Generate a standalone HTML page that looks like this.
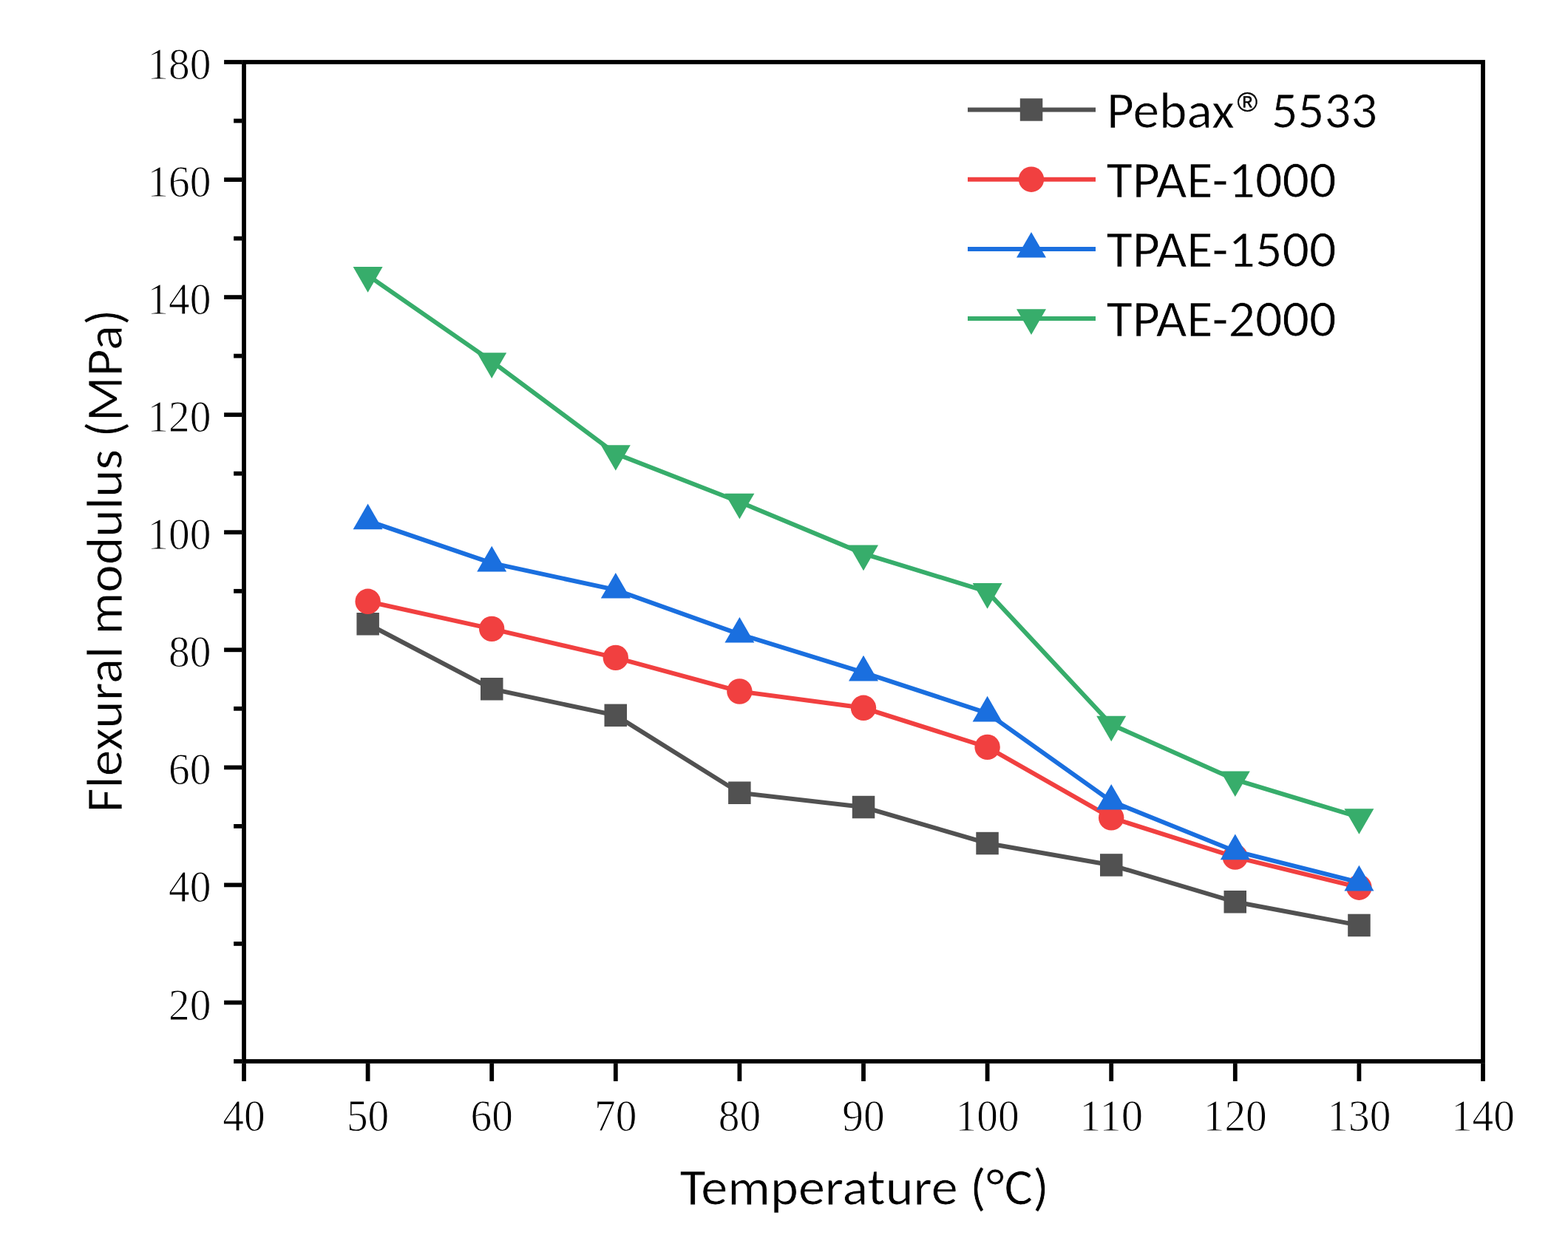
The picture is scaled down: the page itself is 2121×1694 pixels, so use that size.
<!DOCTYPE html>
<html><head><meta charset="utf-8"><title>Flexural modulus vs Temperature</title>
<style>
html,body{margin:0;padding:0;background:#fff;}
body{width:2121px;height:1694px;overflow:hidden;}
svg{display:block;}
.tk{font-family:"Liberation Serif","Times New Roman",serif;font-size:62px;fill:#000;stroke:#fff;stroke-width:1.0px;paint-order:fill stroke;}
.lb{font-family:"Carlito","Calibri","Liberation Sans","Noto Sans CJK SC",sans-serif;font-size:70px;font-size-adjust:cap-height 0.6416;fill:#000;stroke:#fff;stroke-width:0.7px;paint-order:fill stroke;}
</style></head><body>
<svg width="2121" height="1694" viewBox="0 0 2121 1694">
<rect width="2121" height="1694" fill="#fff"/>
<polyline points="497.6,844.3 665.2,932.2 832.8,967.9 1000.4,1072.7 1168.0,1092.0 1335.6,1141.0 1503.2,1170.5 1670.8,1220.3 1838.4,1251.9" fill="none" stroke="#515151" stroke-width="6.0" stroke-linejoin="miter"/>
<rect x="482.4" y="829.0" width="30.5" height="30.5" fill="#515151"/>
<rect x="650.0" y="917.0" width="30.5" height="30.5" fill="#515151"/>
<rect x="817.5" y="952.6" width="30.5" height="30.5" fill="#515151"/>
<rect x="985.1" y="1057.5" width="30.5" height="30.5" fill="#515151"/>
<rect x="1152.8" y="1076.8" width="30.5" height="30.5" fill="#515151"/>
<rect x="1320.3" y="1125.8" width="30.5" height="30.5" fill="#515151"/>
<rect x="1488.0" y="1155.2" width="30.5" height="30.5" fill="#515151"/>
<rect x="1655.5" y="1205.0" width="30.5" height="30.5" fill="#515151"/>
<rect x="1823.2" y="1236.7" width="30.5" height="30.5" fill="#515151"/>
<polyline points="497.6,813.8 665.2,850.9 832.8,889.9 1000.4,935.5 1168.0,957.8 1335.6,1010.9 1503.2,1106.4 1670.8,1159.6 1838.4,1200.7" fill="none" stroke="#F14040" stroke-width="6.0" stroke-linejoin="miter"/>
<circle cx="497.6" cy="813.8" r="17.2" fill="#F14040"/>
<circle cx="665.2" cy="850.9" r="17.2" fill="#F14040"/>
<circle cx="832.8" cy="889.9" r="17.2" fill="#F14040"/>
<circle cx="1000.4" cy="935.5" r="17.2" fill="#F14040"/>
<circle cx="1168.0" cy="957.8" r="17.2" fill="#F14040"/>
<circle cx="1335.6" cy="1010.9" r="17.2" fill="#F14040"/>
<circle cx="1503.2" cy="1106.4" r="17.2" fill="#F14040"/>
<circle cx="1670.8" cy="1159.6" r="17.2" fill="#F14040"/>
<circle cx="1838.4" cy="1200.7" r="17.2" fill="#F14040"/>
<polyline points="497.6,704.7 665.2,761.9 832.8,798.1 1000.4,858.1 1168.0,909.9 1335.6,964.9 1503.2,1084.1 1670.8,1151.7 1838.4,1193.9" fill="none" stroke="#1A6FDF" stroke-width="6.0" stroke-linejoin="miter"/>
<polygon points="497.6,681.6 517.6,716.2 477.6,716.2" fill="#1A6FDF"/>
<polygon points="665.2,738.8 685.2,773.4 645.2,773.4" fill="#1A6FDF"/>
<polygon points="832.8,775.0 852.8,809.6 812.8,809.6" fill="#1A6FDF"/>
<polygon points="1000.4,835.0 1020.4,869.6 980.4,869.6" fill="#1A6FDF"/>
<polygon points="1168.0,886.8 1188.0,921.4 1148.0,921.4" fill="#1A6FDF"/>
<polygon points="1335.6,941.8 1355.6,976.4 1315.6,976.4" fill="#1A6FDF"/>
<polygon points="1503.2,1061.0 1523.2,1095.6 1483.2,1095.6" fill="#1A6FDF"/>
<polygon points="1670.8,1128.6 1690.8,1163.2 1650.8,1163.2" fill="#1A6FDF"/>
<polygon points="1838.4,1170.8 1858.4,1205.4 1818.4,1205.4" fill="#1A6FDF"/>
<polyline points="497.6,372.6 665.2,488.9 832.8,613.8 1000.4,679.2 1168.0,749.1 1335.6,800.6 1503.2,980.2 1670.8,1054.9 1838.4,1105.7" fill="none" stroke="#37AD6B" stroke-width="6.0" stroke-linejoin="miter"/>
<polygon points="497.6,395.7 517.6,361.1 477.6,361.1" fill="#37AD6B"/>
<polygon points="665.2,511.9 685.2,477.3 645.2,477.3" fill="#37AD6B"/>
<polygon points="832.8,636.8 852.8,602.2 812.8,602.2" fill="#37AD6B"/>
<polygon points="1000.4,702.3 1020.4,667.7 980.4,667.7" fill="#37AD6B"/>
<polygon points="1168.0,772.2 1188.0,737.6 1148.0,737.6" fill="#37AD6B"/>
<polygon points="1335.6,823.7 1355.6,789.1 1315.6,789.1" fill="#37AD6B"/>
<polygon points="1503.2,1003.3 1523.2,968.7 1483.2,968.7" fill="#37AD6B"/>
<polygon points="1670.8,1078.0 1690.8,1043.4 1650.8,1043.4" fill="#37AD6B"/>
<polygon points="1838.4,1128.8 1858.4,1094.2 1818.4,1094.2" fill="#37AD6B"/>
<rect x="330.0" y="84.0" width="1676.0" height="1352.0" fill="none" stroke="#000" stroke-width="5.8"/>
<line x1="316.1" y1="1436.0" x2="327.1" y2="1436.0" stroke="#000" stroke-width="5.8"/>
<line x1="303.1" y1="1356.5" x2="327.1" y2="1356.5" stroke="#000" stroke-width="5.8"/>
<line x1="316.1" y1="1276.9" x2="327.1" y2="1276.9" stroke="#000" stroke-width="5.8"/>
<line x1="303.1" y1="1197.4" x2="327.1" y2="1197.4" stroke="#000" stroke-width="5.8"/>
<line x1="316.1" y1="1117.9" x2="327.1" y2="1117.9" stroke="#000" stroke-width="5.8"/>
<line x1="303.1" y1="1038.4" x2="327.1" y2="1038.4" stroke="#000" stroke-width="5.8"/>
<line x1="316.1" y1="958.8" x2="327.1" y2="958.8" stroke="#000" stroke-width="5.8"/>
<line x1="303.1" y1="879.3" x2="327.1" y2="879.3" stroke="#000" stroke-width="5.8"/>
<line x1="316.1" y1="799.8" x2="327.1" y2="799.8" stroke="#000" stroke-width="5.8"/>
<line x1="303.1" y1="720.2" x2="327.1" y2="720.2" stroke="#000" stroke-width="5.8"/>
<line x1="316.1" y1="640.7" x2="327.1" y2="640.7" stroke="#000" stroke-width="5.8"/>
<line x1="303.1" y1="561.2" x2="327.1" y2="561.2" stroke="#000" stroke-width="5.8"/>
<line x1="316.1" y1="481.6" x2="327.1" y2="481.6" stroke="#000" stroke-width="5.8"/>
<line x1="303.1" y1="402.1" x2="327.1" y2="402.1" stroke="#000" stroke-width="5.8"/>
<line x1="316.1" y1="322.6" x2="327.1" y2="322.6" stroke="#000" stroke-width="5.8"/>
<line x1="303.1" y1="243.1" x2="327.1" y2="243.1" stroke="#000" stroke-width="5.8"/>
<line x1="316.1" y1="163.5" x2="327.1" y2="163.5" stroke="#000" stroke-width="5.8"/>
<line x1="303.1" y1="84.0" x2="327.1" y2="84.0" stroke="#000" stroke-width="5.8"/>
<line x1="330.0" y1="1438.9" x2="330.0" y2="1462.9" stroke="#000" stroke-width="5.8"/>
<line x1="497.6" y1="1438.9" x2="497.6" y2="1462.9" stroke="#000" stroke-width="5.8"/>
<line x1="665.2" y1="1438.9" x2="665.2" y2="1462.9" stroke="#000" stroke-width="5.8"/>
<line x1="832.8" y1="1438.9" x2="832.8" y2="1462.9" stroke="#000" stroke-width="5.8"/>
<line x1="1000.4" y1="1438.9" x2="1000.4" y2="1462.9" stroke="#000" stroke-width="5.8"/>
<line x1="1168.0" y1="1438.9" x2="1168.0" y2="1462.9" stroke="#000" stroke-width="5.8"/>
<line x1="1335.6" y1="1438.9" x2="1335.6" y2="1462.9" stroke="#000" stroke-width="5.8"/>
<line x1="1503.2" y1="1438.9" x2="1503.2" y2="1462.9" stroke="#000" stroke-width="5.8"/>
<line x1="1670.8" y1="1438.9" x2="1670.8" y2="1462.9" stroke="#000" stroke-width="5.8"/>
<line x1="1838.4" y1="1438.9" x2="1838.4" y2="1462.9" stroke="#000" stroke-width="5.8"/>
<line x1="2006.0" y1="1438.9" x2="2006.0" y2="1462.9" stroke="#000" stroke-width="5.8"/>
<text class="tk" x="228.1" y="1379.5" textLength="57.4" lengthAdjust="spacingAndGlyphs">20</text>
<text class="tk" x="228.1" y="1220.4" textLength="57.4" lengthAdjust="spacingAndGlyphs">40</text>
<text class="tk" x="228.1" y="1061.4" textLength="57.4" lengthAdjust="spacingAndGlyphs">60</text>
<text class="tk" x="228.1" y="902.3" textLength="57.4" lengthAdjust="spacingAndGlyphs">80</text>
<text class="tk" x="199.4" y="743.2" textLength="86.1" lengthAdjust="spacingAndGlyphs">100</text>
<text class="tk" x="199.4" y="584.2" textLength="86.1" lengthAdjust="spacingAndGlyphs">120</text>
<text class="tk" x="199.4" y="425.1" textLength="86.1" lengthAdjust="spacingAndGlyphs">140</text>
<text class="tk" x="199.4" y="266.1" textLength="86.1" lengthAdjust="spacingAndGlyphs">160</text>
<text class="tk" x="199.4" y="107.0" textLength="86.1" lengthAdjust="spacingAndGlyphs">180</text>
<text class="tk" x="301.3" y="1530.0" textLength="57.4" lengthAdjust="spacingAndGlyphs">40</text>
<text class="tk" x="468.9" y="1530.0" textLength="57.4" lengthAdjust="spacingAndGlyphs">50</text>
<text class="tk" x="636.5" y="1530.0" textLength="57.4" lengthAdjust="spacingAndGlyphs">60</text>
<text class="tk" x="804.1" y="1530.0" textLength="57.4" lengthAdjust="spacingAndGlyphs">70</text>
<text class="tk" x="971.7" y="1530.0" textLength="57.4" lengthAdjust="spacingAndGlyphs">80</text>
<text class="tk" x="1139.3" y="1530.0" textLength="57.4" lengthAdjust="spacingAndGlyphs">90</text>
<text class="tk" x="1292.5" y="1530.0" textLength="86.1" lengthAdjust="spacingAndGlyphs">100</text>
<text class="tk" x="1460.1" y="1530.0" textLength="86.1" lengthAdjust="spacingAndGlyphs">110</text>
<text class="tk" x="1627.7" y="1530.0" textLength="86.1" lengthAdjust="spacingAndGlyphs">120</text>
<text class="tk" x="1795.3" y="1530.0" textLength="86.1" lengthAdjust="spacingAndGlyphs">130</text>
<text class="tk" x="1962.9" y="1530.0" textLength="86.1" lengthAdjust="spacingAndGlyphs">140</text>
<text class="lb" x="919.6" y="1630.0" textLength="499.2" lengthAdjust="spacingAndGlyphs">Temperature (°C)</text>
<text class="lb" transform="translate(165,1099.2) rotate(-90)" x="0" y="0" textLength="680.8" lengthAdjust="spacingAndGlyphs">Flexural modulus (MPa)</text>
<line x1="1309" y1="148.4" x2="1482" y2="148.4" stroke="#515151" stroke-width="6.0"/>
<rect x="1379.8" y="133.2" width="30.5" height="30.5" fill="#515151"/>
<line x1="1309" y1="242.7" x2="1482" y2="242.7" stroke="#F14040" stroke-width="6.0"/>
<circle cx="1395.0" cy="242.7" r="17.2" fill="#F14040"/>
<line x1="1309" y1="337" x2="1482" y2="337" stroke="#1A6FDF" stroke-width="6.0"/>
<polygon points="1395.0,313.9 1415.0,348.5 1375.0,348.5" fill="#1A6FDF"/>
<line x1="1309" y1="431" x2="1482" y2="431" stroke="#37AD6B" stroke-width="6.0"/>
<polygon points="1395.0,452.9 1415.0,418.3 1375.0,418.3" fill="#37AD6B"/>
<text class="lb" y="173"><tspan x="1497.0" textLength="172.9" lengthAdjust="spacingAndGlyphs">Pebax</tspan><tspan x="1673.4" y="151.3" style="font-family:'Liberation Sans',Arimo,Arial,sans-serif;font-size:37.5px;font-size-adjust:none;stroke:#000;stroke-width:0.4px">®</tspan> <tspan x="1719.8" y="173" textLength="143.2" lengthAdjust="spacingAndGlyphs">5533</tspan></text>
<text class="lb" x="1496.8" y="267.0" textLength="310.6" lengthAdjust="spacingAndGlyphs">TPAE-1000</text>
<text class="lb" x="1496.8" y="361.0" textLength="310.6" lengthAdjust="spacingAndGlyphs">TPAE-1500</text>
<text class="lb" x="1496.8" y="455.0" textLength="310.6" lengthAdjust="spacingAndGlyphs">TPAE-2000</text>
</svg></body></html>
